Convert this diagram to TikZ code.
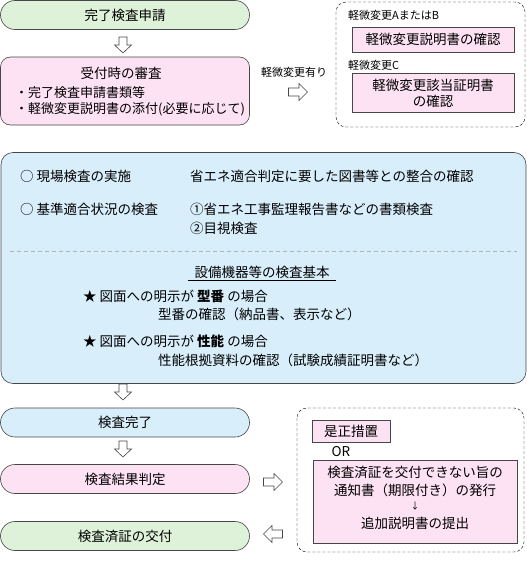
\documentclass[tikz,border=0pt]{standalone}
\usepackage{fontspec}
\setmainfont{Noto Sans CJK JP}
\usetikzlibrary{shapes.misc}
\definecolor{KanryoGreen}{RGB}{222,242,218}
\definecolor{ShinsaPink}{RGB}{253,226,244}
\definecolor{KensaBlue}{RGB}{216,238,251}
\definecolor{WakuGray}{RGB}{70,70,70}

\begin{document}
\begin{tikzpicture}[x=1pt, y=-1pt, font=\fontsize{13.5}{16}\selectfont,
	kapsel/.style={rounded rectangle, draw=WakuGray, semithick, inner sep=0pt,
		minimum width=249pt, minimum height=29pt},
	pinkbox/.style={rectangle, draw=WakuGray, semithick, fill=ShinsaPink, inner sep=0pt},
	tenbox/.style={draw, thin, dash pattern=on 3pt off 2pt, rounded corners=10pt},
	ya/.style={draw=WakuGray, fill=white, semithick, line join=miter},
	komoji/.style={font=\fontsize{11}{13}\selectfont, inner sep=0pt},
	hidari/.style={anchor=west, inner sep=0pt}]

	\useasboundingbox (0,0) rectangle (527,562);

	% left column
	\node[kapsel, fill=KanryoGreen] (shinsei) at (125,15) {完了検査申請};
	\draw[ya, shift={(123,45)}] (-4,-8) -- (4,-8) -- (4,0) -- (8.5,0) -- (0,8) -- (-8.5,0) -- (-4,0) -- cycle;
	\node[pinkbox, rounded corners=10pt, minimum width=249pt, minimum height=68pt] (uketsuke) at (125,91) {};
	\node[inner sep=0pt] (uketsukeT) at (121,73) {受付時の審査};
	\node[hidari, font=\fontsize{13}{15}\selectfont] (b1) at (15,93) {・完了検査申請書類等};
	\node[hidari, font=\fontsize{13}{15}\selectfont] (b2) at (15,109) {・軽微変更説明書の添付(必要に応じて)};

	% keibi henkou
	\node[komoji] (ari) at (294,72) {軽微変更有り};
	\draw[ya, shift={(298,92)}, rotate=90] (-4,-9.5) -- (4,-9.5) -- (4,1) -- (8.5,1) -- (0,9.5) -- (-8.5,1) -- (-4,1) -- cycle;
	\draw[tenbox] (336,2) rectangle (525,127);
	\node[komoji, anchor=west] (labAB) at (348,15) {軽微変更AまたはB};
	\node[pinkbox, minimum width=162pt, minimum height=25pt] (kakuninAB) at (433,39.5) {軽微変更説明書の確認};
	\node[komoji, anchor=west] (labC) at (348,65) {軽微変更C};
	\node[pinkbox, minimum width=162pt, minimum height=39pt, align=center] (kakuninC) at (433,93)
		{軽微変更該当証明書\\の確認};

	% genba kensa
	\node[draw=WakuGray, semithick, fill=KensaBlue, rounded corners=12pt, inner sep=0pt,
		minimum width=525pt, minimum height=231pt] (genba) at (263.5,268) {};
	\node[hidari] (g1) at (20,176) {○ 現場検査の実施};
	\node[hidari] (g1r) at (190,176) {省エネ適合判定に要した図書等との整合の確認};
	\node[hidari] (g2) at (20,209) {○ 基準適合状況の検査};
	\node[hidari] (g2r) at (190,209) {①省エネ工事監理報告書などの書類検査};
	\node[hidari] (g3r) at (190,228) {②目視検査};
	\draw[gray!60, dash pattern=on 4pt off 3pt] (10,251) -- (517,251);
	\node[inner sep=0pt] (kihon) at (262,272) {設備機器等の検査基本};
	\draw[thin] ([xshift=-6pt, yshift=-2pt]kihon.south west) -- ([xshift=6pt, yshift=-2pt]kihon.south east);
	\node[hidari] (s1) at (83,296) {★ 図面への明示が \textbf{型番} の場合};
	\node[hidari] (s1b) at (158,314) {型番の確認（納品書、表示など）};
	\node[hidari] (s2) at (83,341) {★ 図面への明示が \textbf{性能} の場合};
	\node[hidari] (s2b) at (158,360) {性能根拠資料の確認（試験成績証明書など）};
	\draw[ya, shift={(123,392)}] (-4,-8) -- (4,-8) -- (4,0) -- (8.5,0) -- (0,8) -- (-8.5,0) -- (-4,0) -- cycle;

	% lower part
	\node[kapsel, fill=KensaBlue] (kanryo) at (125,422.5) {検査完了};
	\draw[ya, shift={(123,449)}] (-4,-8) -- (4,-8) -- (4,0) -- (8.5,0) -- (0,8) -- (-8.5,0) -- (-4,0) -- cycle;
	\node[kapsel, fill=ShinsaPink] (hantei) at (125,479) {検査結果判定};
	\node[kapsel, fill=KanryoGreen] (kofu) at (125,536) {検査済証の交付};
	\draw[ya, shift={(273,482)}, rotate=90] (-4,-9.5) -- (4,-9.5) -- (4,1) -- (8.5,1) -- (0,9.5) -- (-8.5,1) -- (-4,1) -- cycle;
	\draw[ya, shift={(273,534)}, rotate=-90] (-4,-9.5) -- (4,-9.5) -- (4,1) -- (8.5,1) -- (0,9.5) -- (-8.5,1) -- (-4,1) -- cycle;

	% zesei sochi
	\draw[tenbox] (297,408) rectangle (524,552);
	\node[pinkbox, minimum width=78pt, minimum height=22pt] (zesei) at (351,431) {是正措置};
	\node[inner sep=0pt] (or) at (341,452) {OR};
	\node[pinkbox, minimum width=204pt, minimum height=83pt] (tsuchi) at (415,501.5) {};
	\node[inner sep=0pt] (t1) at (415,472) {検査済証を交付できない旨の};
	\node[inner sep=0pt] (t2) at (415,490) {通知書（期限付き）の発行};
	\node[inner sep=0pt, font=\fontsize{9}{10}\selectfont] (t3) at (415,506) {↓};
	\node[inner sep=0pt] (t4) at (415,523) {追加説明書の提出};
\end{tikzpicture}
\end{document}
